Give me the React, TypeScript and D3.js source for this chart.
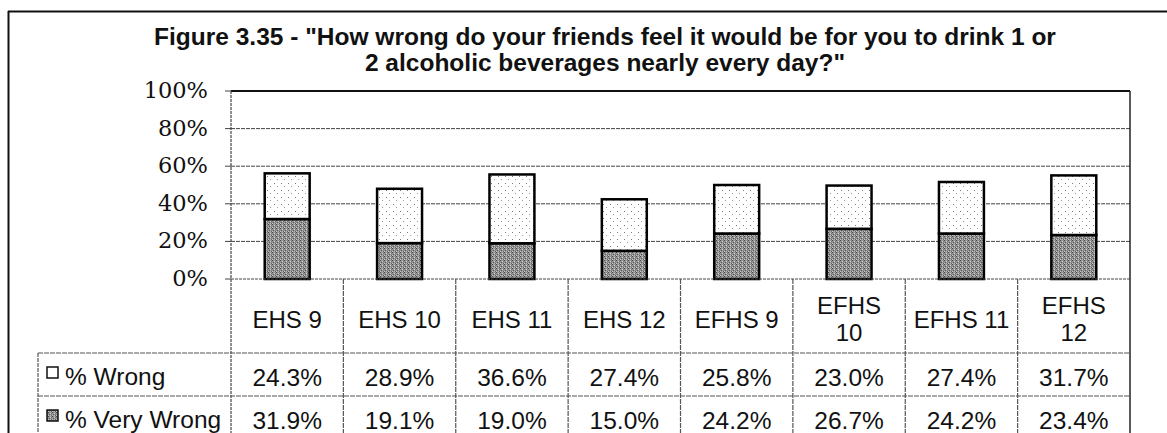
import React from "react";
import * as d3 from "d3";

const categories = ["EHS 9", "EHS 10", "EHS 11", "EHS 12", "EFHS 9", "EFHS 10", "EFHS 11", "EFHS 12"];
const categoryLabelLines = [["EHS 9"], ["EHS 10"], ["EHS 11"], ["EHS 12"], ["EFHS 9"], ["EFHS", "10"], ["EFHS 11"], ["EFHS", "12"]];
const wrong = [24.3, 28.9, 36.6, 27.4, 25.8, 23.0, 27.4, 31.7];
const veryWrong = [31.9, 19.1, 19.0, 15.0, 24.2, 26.7, 24.2, 23.4];
const seriesNames = ["% Wrong", "% Very Wrong"];
const yTicks = [0, 20, 40, 60, 80, 100];
const titleLines = [
  'Figure 3.35 - "How wrong do your friends feel it would be for you to drink 1 or',
  '2 alcoholic beverages nearly every day?"',
];

const W = 1167;
const H = 433;
const plot = { left: 231, right: 1130, top: 91, bottom: 279 };
const table = { legendLeft: 38, row1: 353, row2: 396 };
const FONT = "'Liberation Sans', Arial, sans-serif";

export default function App() {
  const x = d3
    .scaleBand<string>()
    .domain(categories)
    .range([plot.left, plot.right])
    .paddingInner(0.6)
    .paddingOuter(0.3);
  const step = x.step();
  const y = d3.scaleLinear().domain([0, 100]).range([plot.bottom, plot.top]);
  const fmt = (v: number) => v.toFixed(1) + "%";
  const colLeft = (c: string) => (x(c) as number) - (step - x.bandwidth()) / 2;

  const stacked = categories.map((c, i) => ({ c, vw: veryWrong[i], w: wrong[i] }));

  return (
    <svg
      width={W}
      height={H}
      viewBox={`0 0 ${W} ${H}`}
      style={{ position: "absolute", left: 0, top: 0, background: "#fff" }}
    >
      <defs>
        <pattern id="darkPat" width="4" height="4" patternUnits="userSpaceOnUse">
          <rect width="4" height="4" fill="#959595" />
          <rect x="0" y="0" width="1" height="1" fill="#4a4a4a" />
          <rect x="2" y="1" width="1" height="1" fill="#d0d0d0" />
          <rect x="1" y="2" width="1" height="1" fill="#555" />
          <rect x="3" y="3" width="1" height="1" fill="#5f5f5f" />
          <rect x="3" y="1" width="1" height="1" fill="#707070" />
          <rect x="0" y="3" width="1" height="1" fill="#c4c4c4" />
          <rect x="2" y="3" width="1" height="1" fill="#b5b5b5" />
        </pattern>
        <pattern id="lightPat" width="7" height="7" patternUnits="userSpaceOnUse">
          <rect width="7" height="7" fill="#fff" />
          <rect x="1" y="1" width="1" height="1" fill="#7a7a7a" />
          <rect x="4" y="4" width="1" height="1" fill="#9a9a9a" />
        </pattern>
      </defs>

      {/* outer frame */}
      <line x1={8.5} y1={11} x2={8.5} y2={H} stroke="#111" strokeWidth={2} />
      <line x1={8} y1={11.5} x2={W} y2={11.5} stroke="#111" strokeWidth={2} />

      {/* title */}
      {titleLines.map((t, i) => (
        <text
          key={i}
          x={605}
          y={45 + i * 26}
          textAnchor="middle"
          fontFamily={FONT}
          fontWeight="bold"
          fontSize={24.5}
          fill="#111"
        >
          {t}
        </text>
      ))}

      {/* gridlines */}
      {yTicks
        .filter((t) => t > 0 && t < 100)
        .map((t) => (
          <line
            key={t}
            x1={plot.left}
            x2={plot.right}
            y1={y(t)}
            y2={y(t)}
            stroke="#444"
            strokeWidth={1}
            strokeDasharray="4 1"
          />
        ))}

      {/* plot frame */}
      <line x1={plot.left} x2={plot.right} y1={plot.top} y2={plot.top} stroke="#111" strokeWidth={2} />
      <line x1={plot.right} x2={plot.right} y1={plot.top} y2={H} stroke="#222" strokeWidth={1.5} />
      <line x1={plot.left} x2={plot.left} y1={plot.top} y2={H} stroke="#444" strokeWidth={1.2} strokeDasharray="3 1" />

      {/* y ticks and labels */}
      {yTicks.map((t) => (
        <g key={t}>
          <line x1={plot.left - 6} x2={plot.left} y1={y(t)} y2={y(t)} stroke="#444" strokeWidth={1} />
          <text
            x={208}
            y={y(t) + 7}
            textAnchor="end"
            fontFamily="'DejaVu Serif', serif"
            fontSize={22.5}
            fill="#111"
          >
            {t}%
          </text>
        </g>
      ))}

      {/* bars */}
      {stacked.map((d) => (
        <g key={d.c}>
          <rect
            x={x(d.c)}
            y={y(d.vw)}
            width={x.bandwidth()}
            height={y(0) - y(d.vw)}
            fill="url(#darkPat)"
            stroke="#000"
            strokeWidth={2.5}
          />
          <rect
            x={x(d.c)}
            y={y(d.vw + d.w)}
            width={x.bandwidth()}
            height={y(d.vw) - y(d.vw + d.w)}
            fill="url(#lightPat)"
            stroke="#000"
            strokeWidth={2.5}
          />
        </g>
      ))}

      {/* axis baseline */}
      <line x1={plot.left} x2={plot.right} y1={plot.bottom} y2={plot.bottom} stroke="#444" strokeWidth={1} strokeDasharray="3 1" />

      {/* table grid */}
      {categories.slice(1).map((c) => (
        <line
          key={c}
          x1={colLeft(c)}
          x2={colLeft(c)}
          y1={plot.bottom}
          y2={H}
          stroke="#555"
          strokeWidth={1.2}
          strokeDasharray="5 1"
        />
      ))}
      {[table.row1, table.row2].map((ry) => (
        <line key={ry} x1={table.legendLeft} x2={plot.right} y1={ry} y2={ry} stroke="#555" strokeWidth={1.2} strokeDasharray="5 1" />
      ))}
      <line x1={table.legendLeft} x2={table.legendLeft} y1={table.row1} y2={H} stroke="#555" strokeWidth={1.2} strokeDasharray="4 1" />

      {/* category labels */}
      {categories.map((c, i) => {
        const lines = categoryLabelLines[i];
        const cx = (x(c) as number) + x.bandwidth() / 2;
        const baseY = lines.length === 1 ? 328 : 314;
        return (
          <text key={c} textAnchor="middle" fontFamily={FONT} fontSize={24} fill="#111">
            {lines.map((l, j) => (
              <tspan key={j} x={cx} y={baseY + j * 27}>
                {l}
              </tspan>
            ))}
          </text>
        );
      })}

      {/* legend cells */}
      {seriesNames.map((s, i) => {
        const rowTop = i === 0 ? table.row1 : table.row2;
        return (
          <g key={s}>
            <rect
              x={47}
              y={rowTop + 14}
              width={11}
              height={11}
              fill={i === 0 ? "#fff" : "url(#darkPat)"}
              stroke="#111"
              strokeWidth={1.5}
            />
            <text x={65} y={rowTop + 32} fontFamily={FONT} fontSize={24.5} fill="#111">
              {s}
            </text>
          </g>
        );
      })}

      {/* data cells */}
      {categories.map((c, i) => {
        const cx = (x(c) as number) + x.bandwidth() / 2;
        return (
          <g key={c}>
            <text x={cx} y={table.row1 + 33} textAnchor="middle" fontFamily={FONT} fontSize={24.5} fill="#111">
              {fmt(wrong[i])}
            </text>
            <text x={cx} y={table.row2 + 33} textAnchor="middle" fontFamily={FONT} fontSize={24.5} fill="#111">
              {fmt(veryWrong[i])}
            </text>
          </g>
        );
      })}
    </svg>
  );
}
